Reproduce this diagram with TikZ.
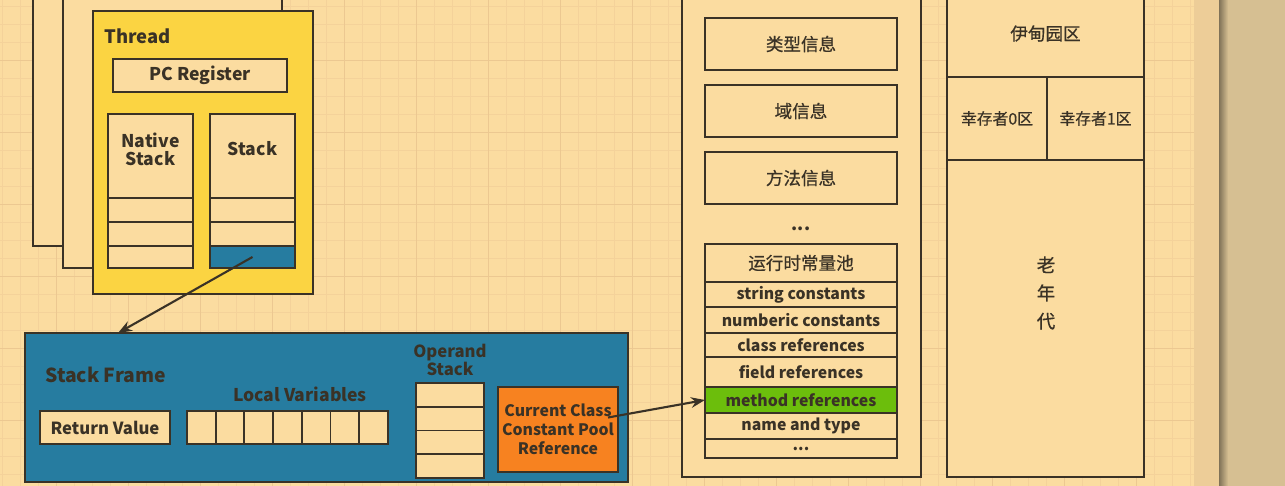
\documentclass[tikz,border=0pt]{standalone}
\usepackage{fontspec}
\setmainfont{Noto Sans CJK SC}
\newfontfamily\hanfont[FakeBold=0.6]{Noto Sans CJK SC}
\usepackage{tikz}
\usetikzlibrary{arrows,arrows.meta,calc,positioning,shapes}
\definecolor{my_paper}{RGB}{251,220,160}
\definecolor{my_grid}{RGB}{244,210,154}
\definecolor{my_major}{RGB}{236,200,145}
\definecolor{my_line}{RGB}{58,50,38}
\definecolor{my_yellow}{RGB}{251,212,66}
\definecolor{my_blue}{RGB}{38,124,160}
\definecolor{my_orange}{RGB}{247,130,32}
\definecolor{my_green}{RGB}{108,190,12}
\definecolor{my_strip}{RGB}{237,205,152}
\definecolor{my_desk}{RGB}{214,191,146}
\tikzset{
  cell/.style = {draw=my_line, line width=1.1pt, fill=my_paper, inner xsep=1pt, inner ysep=0pt,
  outer sep=0pt, align=center, text=my_line, font=\bfseries\fontsize{9}{10.5}\selectfont},
  wd/.style = {minimum width=#1*0.02cm},
  ht/.style = {minimum height=#1*0.02cm},
  han/.style = {font=\hanfont\fontsize{10}{12}\selectfont}
}

\begin{document}
\begin{tikzpicture}[x=0.02cm, y=-0.02cm, >={Stealth[length=8pt,width=6pt]}, node distance=0pt,
        thread/.style={cell, fill=my_yellow},
        frame/.style={cell, fill=my_blue},
        tag/.style={align=center, inner sep=0pt, text=my_line, font=\bfseries\fontsize{10}{10.3}\selectfont},
        link/.style={->, draw=my_line, line width=1.2pt}]
    \clip (0,0) rectangle (1285,486);
    % paper and grid
    \fill[my_paper] (0,0) rectangle (1194,486);
    \foreach \gx in {2.7,20.7,...,1194} \draw[my_grid, line width=0.7pt] (\gx,0) -- (\gx,486);
    \foreach \gy in {6.7,24.7,...,486} \draw[my_grid, line width=0.7pt] (0,\gy) -- (1194,\gy);
    \foreach \gx in {56.3,128.3,...,1194} \draw[my_major, line width=0.8pt] (\gx,0) -- (\gx,486);
    \foreach \gy in {60.3,132.3,...,486} \draw[my_major, line width=0.8pt] (0,\gy) -- (1194,\gy);
    \fill[my_strip] (1194,0) rectangle (1219,486);
    \fill[my_desk] (1219,0) rectangle (1285,486);
    \shade[left color=my_desk!60!black, right color=my_desk] (1219,0) rectangle (1228,486);

    % threads
    \node[cell, wd=249, ht=266] (back1) at (157.5,113) {};
    \node[cell, wd=219, ht=288] (back2) at (172.5,124) {};
    \node[thread, wd=220, ht=283] (thread) at (203,152.5) {};
    \node[tag, anchor=west, font=\bfseries\fontsize{10.5}{12}\selectfont] (threadname) at (104,36) {Thread};
    \node[cell, wd=174, ht=33, font=\bfseries\fontsize{10}{12}\selectfont] (pc) at (200,75.5) {PC Register};

    \node[cell, wd=85, ht=84] (nstack) at (150.5,156) {};
    \node[cell, wd=85, ht=24, below=of nstack] (ns1) {};
    \node[cell, wd=85, ht=24, below=of ns1] (ns2) {};
    \node[cell, wd=85, ht=22, below=of ns2] (ns3) {};
    \node[tag] (nstackname) at (150.5,149) {Native\\Stack};

    \node[cell, wd=85, ht=84] (jstack) at (252.5,156) {};
    \node[cell, wd=85, ht=24, below=of jstack] (st1) {};
    \node[cell, wd=85, ht=24, below=of st1] (st2) {};
    \node[cell, wd=85, ht=22, below=of st2, fill=my_blue] (st3) {};
    \node[tag] (jstackname) at (252.5,149) {Stack};

    % stack frame
    \node[frame, wd=603, ht=149] (frame) at (326.5,407.5) {};
    \coordinate (fin) at (118,333);
    \draw[link] (st3.center) -- (fin);
    \node[tag, anchor=west, font=\bfseries\fontsize{11}{12}\selectfont] (framename) at (45,375) {Stack Frame};
    \node[tag] (lvname) at (300,394) {Local Variables};
    \node[tag, font=\bfseries\fontsize{9.5}{10.3}\selectfont] (opname) at (450,360) {Operand\\Stack};
    \node[cell, wd=130, ht=33, font=\bfseries\fontsize{9.5}{11}\selectfont] (ret) at (105,427.5) {Return Value};
    \foreach \i in {0,...,6}
        \node[cell, wd=28.7, ht=33] (lv\i) at ({201.35+28.7*\i},427.5) {};
    \foreach \i in {0,...,3}
        \node[cell, wd=68, ht=23.75] (op\i) at (450,{394.9+23.75*\i}) {};
    \node[cell, wd=120, ht=85, fill=my_orange, font=\bfseries\fontsize{9}{10.8}\selectfont] (cur) at (558,429.5)
        {Current Class\\Constant Pool\\Reference};

    % method area
    \node[cell, wd=239, ht=487] (area) at (801.5,233.5) {};
    \node[cell, han, wd=192, ht=52] (typeinfo) at (801,44) {类型信息};
    \node[cell, han, wd=192, ht=52] (fieldinfo) at (801,111) {域信息};
    \node[cell, han, wd=192, ht=52] (methinfo) at (801,178) {方法信息};
    \node[tag] (more) at (801,229) {...};
    \node[cell, han, wd=192, ht=38] (pool) at (801,263) {运行时常量池};
    \node[cell, wd=192, ht=25, below=of pool] (strc) {string constants};
    \node[cell, wd=192, ht=26, below=of strc] (numc) {numberic constants};
    \node[cell, wd=192, ht=24, below=of numc] (clsr) {class references};
    \node[cell, wd=192, ht=30, below=of clsr] (fldr) {field references};
    \node[cell, wd=192, ht=26, below=of fldr, fill=my_green] (mtdr) {method references};
    \node[cell, wd=192, ht=26, below=of mtdr] (nat) {name and type};
    \node[cell, wd=192, ht=19, below=of nat] (etc) {...};
    \draw[link] ($(cur.east)+(-10,-12)$) -- (mtdr.west);

    % heap
    \node[cell, han, wd=197, ht=87] (eden) at (1045.5,33.5) {伊甸园区};
    \node[cell, han, wd=100, ht=83, font=\hanfont\fontsize{9}{11}\selectfont] (surv0) at (997,118.5) {幸存者0区};
    \node[cell, han, wd=97, ht=83, font=\hanfont\fontsize{9}{11}\selectfont] (surv1) at (1095.5,118.5) {幸存者1区};
    \node[cell, wd=197, ht=317] (old) at (1045.5,318.5) {};
    \node[tag, han, font=\hanfont\fontsize{10.5}{16}\selectfont] (oldname) at (1046,293) {老\\年\\代};
\end{tikzpicture}
\end{document}
